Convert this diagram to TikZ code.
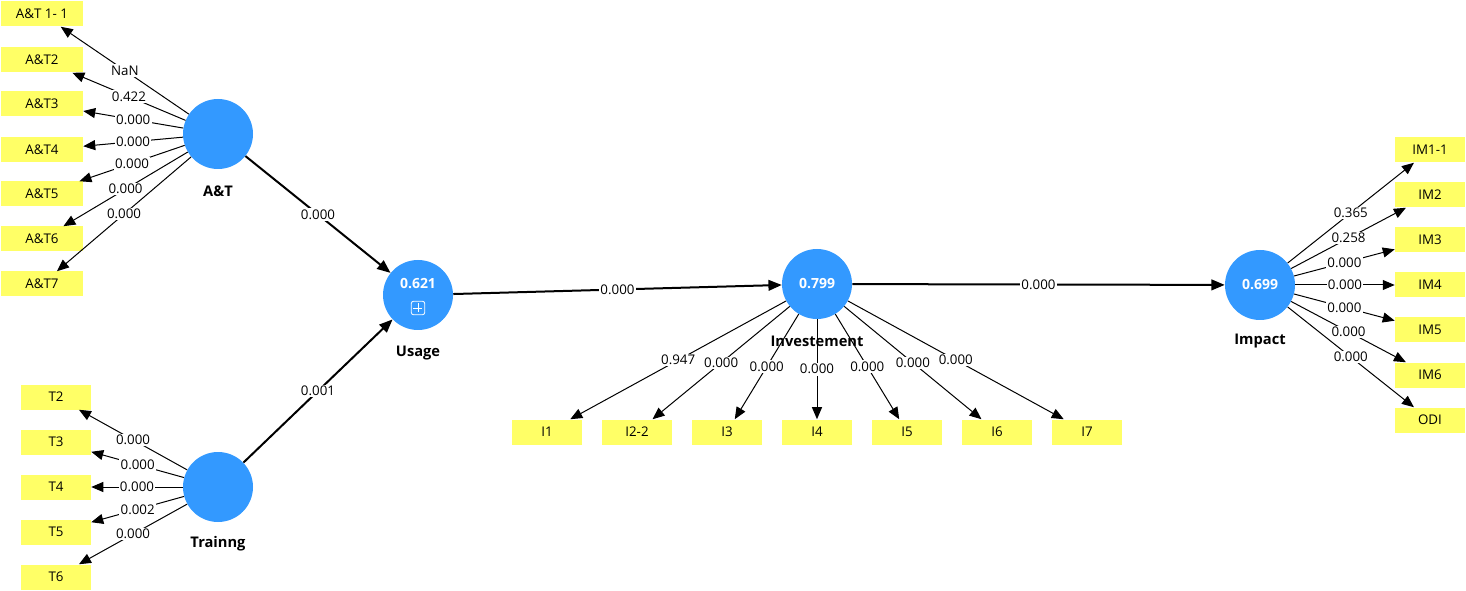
\documentclass[tikz,border=0pt]{standalone}
\usepackage{fontspec}
\setmainfont{Open Sans}
\usetikzlibrary{arrows.meta}

\definecolor{latblue}{RGB}{51,153,255}
\definecolor{indyellow}{RGB}{255,255,102}

\tikzset{
  latent/.style={circle, fill=latblue, minimum size=52.5pt, inner sep=0pt, text=white, font=\fontsize{10.5}{12}\selectfont\bfseries},
  indbox/.style={rectangle, fill=indyellow, minimum width=52.5pt, minimum height=18.75pt, inner sep=0pt, font=\fontsize{10}{12}\selectfont},
  widebox/.style={indbox, minimum width=61.5pt},
  latname/.style={font=\fontsize{11}{13}\selectfont\bfseries},
  ind/.style={line width=0.75pt, -{Triangle[length=9pt,width=7.5pt]}},
  path/.style={line width=1.5pt, -{Triangle[length=10pt,width=8pt]}},
  lbl/.style={fill=white, inner sep=1pt, font=\fontsize{10}{12}\selectfont}
}

\begin{document}
\begin{tikzpicture}[x=0.75pt,y=-0.75pt]
	\useasboundingbox (0,0) rectangle (1466,591);

	% latent variables
	\node[latent] (at) at (218,134) {};
	\node[latent] (tr) at (218,487) {};
	\node[latent] (us) at (418,295) {};
	\node[latent] (inv) at (817,284) {0.799};
	\node[latent] (imp) at (1260,285) {0.699};

	\node[] (usval) at (418,284) {\fontsize{10.5}{12}\selectfont\bfseries\color{white}0.621};
	\node[draw=white, line width=0.6pt, rounded corners=1.5pt, minimum size=10pt, inner sep=0pt] (usplus) at (418,308) {};
	\draw[white, line width=0.6pt] (usplus.north) ++(0,2.5) -- ++(0,8.3);
	\draw[white, line width=0.6pt] (usplus.west) ++(2.5,0) -- ++(8.3,0);

	\node[latname] (atname) at (218,191) {A\&T};
	\node[latname] (trname) at (218,544) {Trainng};
	\node[latname] (usname) at (418,353) {Usage};
	\node[latname] (impname) at (1260,341) {Impact};

	% A&T indicators
	\node[widebox] (at1) at (42,14) {A\&T 1- 1};
	\node[widebox] (at2) at (42,60) {A\&T2};
	\node[widebox] (at3) at (42,104) {A\&T3};
	\node[widebox] (at4) at (42,150) {A\&T4};
	\node[widebox] (at5) at (42,194) {A\&T5};
	\node[widebox] (at6) at (42,239) {A\&T6};
	\node[widebox] (at7) at (42,284) {A\&T7};

	% Trainng indicators
	\node[indbox] (t2) at (56,397) {T2};
	\node[indbox] (t3) at (56,442) {T3};
	\node[indbox] (t4) at (56,487) {T4};
	\node[indbox] (t5) at (56,532) {T5};
	\node[indbox] (t6) at (56,577) {T6};

	% Investement indicators
	\node[indbox] (i1) at (547,432) {I1};
	\node[indbox] (i2) at (637,432) {I2-2};
	\node[indbox] (i3) at (727,432) {I3};
	\node[indbox] (i4) at (817,432) {I4};
	\node[indbox] (i5) at (907,432) {I5};
	\node[indbox] (i6) at (997,432) {I6};
	\node[indbox] (i7) at (1087,432) {I7};

	% Impact indicators
	\node[indbox] (im1) at (1430,150) {IM1-1};
	\node[indbox] (im2) at (1430,195) {IM2};
	\node[indbox] (im3) at (1430,240) {IM3};
	\node[indbox] (im4) at (1430,285) {IM4};
	\node[indbox] (im5) at (1430,330) {IM5};
	\node[indbox] (im6) at (1430,375) {IM6};
	\node[indbox] (odi) at (1430,420) {ODI};

	% loadings
	\draw[ind] (at) -- node[lbl] {NaN} (at1);
	\draw[ind] (at) -- node[lbl] {0.422} (at2);
	\draw[ind] (at) -- node[lbl] {0.000} (at3);
	\draw[ind] (at) -- node[lbl] {0.000} (at4);
	\draw[ind] (at) -- node[lbl] {0.000} (at5);
	\draw[ind] (at) -- node[lbl] {0.000} (at6);
	\draw[ind] (at) -- node[lbl] {0.000} (at7);

	\draw[ind] (tr) -- node[lbl] {0.000} (t2);
	\draw[ind] (tr) -- node[lbl] {0.000} (t3);
	\draw[ind] (tr) -- node[lbl] {0.000} (t4);
	\draw[ind] (tr) -- node[lbl] {0.002} (t5);
	\draw[ind] (tr) -- node[lbl] {0.000} (t6);

	\draw[ind] (inv) -- node[lbl] {0.947} (i1);
	\draw[ind] (inv) -- node[lbl] {0.000} (i2);
	\draw[ind] (inv) -- node[lbl] {0.000} (i3);
	\draw[ind] (inv) -- node[lbl] {0.000} (i4);
	\draw[ind] (inv) -- node[lbl] {0.000} (i5);
	\draw[ind] (inv) -- node[lbl] {0.000} (i6);
	\draw[ind] (inv) -- node[lbl] {0.000} (i7);

	\draw[ind] (imp) -- node[lbl] {0.365} (im1);
	\draw[ind] (imp) -- node[lbl] {0.258} (im2);
	\draw[ind] (imp) -- node[lbl] {0.000} (im3);
	\draw[ind] (imp) -- node[lbl] {0.000} (im4);
	\draw[ind] (imp) -- node[lbl] {0.000} (im5);
	\draw[ind] (imp) -- node[lbl] {0.000} (im6);
	\draw[ind] (imp) -- node[lbl] {0.000} (odi);

	% structural paths
	\draw[path] (at) -- node[lbl] {0.000} (us);
	\draw[path] (tr) -- node[lbl] {0.001} (us);
	\draw[path] (us) -- node[lbl] {0.000} (inv);
	\draw[path] (inv) -- node[lbl] {0.000} (imp);

	% name drawn over the loading lines
	\node[latname] (invname) at (817,341) {Investement};
\end{tikzpicture}
\end{document}
